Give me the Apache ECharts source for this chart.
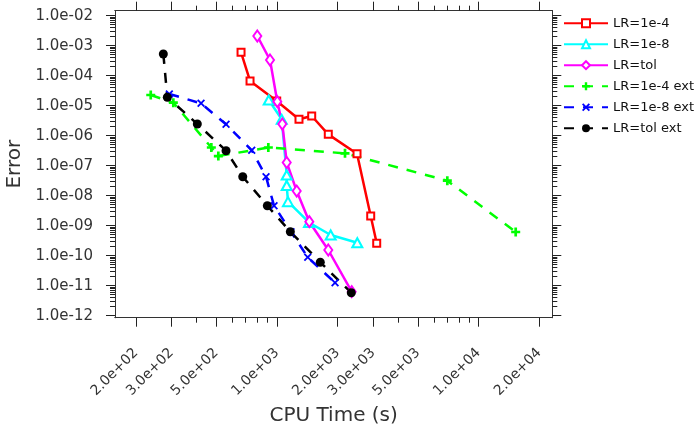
<!DOCTYPE html>
<html>
<head>
<meta charset="utf-8">
<script src="https://cdn.jsdelivr.net/npm/echarts@6/dist/echarts.min.js"></script>
<style>
  html, body { margin: 0; padding: 0; background: #fff; }
  #chart { width: 699px; height: 432px; }
</style>
</head>
<body>
<div id="chart"></div>
<script>
// CPU time (s) and error for each learning-rate run
const lr4Time  = [663.5, 735.3, 997.2, 1286, 1487, 1797, 2495, 2917, 3124];
const lr4Err   = [6.03e-4, 6.66e-5, 1.43e-5, 3.52e-6, 4.54e-6, 1.11e-6, 2.49e-7, 2.10e-9, 2.59e-10];

const lr8Time  = [910.2, 1056, 1118, 1118, 1134, 1442, 1847, 2503];
const lr8Err   = [1.55e-5, 3.52e-6, 4.90e-8, 2.19e-8, 6.31e-9, 1.28e-9, 4.90e-10, 2.71e-10];

const tolTime  = [799, 923.8, 1004, 1063, 1118, 1253, 1447, 1797, 2348];
const tolErr   = [2.105e-3, 3.34e-4, 1.36e-5, 2.455e-6, 1.28e-7, 1.43e-8, 1.36e-9, 1.55e-10, 6.31e-12];

const lr4ExtTime = [236.6, 306.2, 472.6, 512, 906.1, 2175, 6997, 15277];
const lr4ExtErr  = [2.27e-5, 1.26e-5, 4.04e-7, 2.10e-7, 4.04e-7, 2.59e-7, 3.16e-8, 6.17e-10];

const lr8ExtTime = [292.5, 420.2, 559, 749.6, 882.6, 967, 1174, 1421, 1941];
const lr8ExtErr  = [2.455e-5, 1.20e-5, 2.40e-6, 3.26e-7, 4.30e-8, 4.64e-9, 6.31e-10, 8.84e-11, 1.26e-11];

const tolExtTime = [273.2, 285.9, 402.7, 559, 676.5, 895.9, 1165, 1640, 2337];
const tolExtErr  = [5.29e-4, 1.905e-5, 2.455e-6, 3.16e-7, 4.30e-8, 4.64e-9, 6.31e-10, 6.03e-11, 5.84e-12];

// Axis tick values
const xMajorTicks = [200, 300, 500, 1000, 2000, 3000, 5000, 10000, 20000];
const xMinorTicks = [400, 600, 700, 800, 900, 4000, 6000, 7000, 8000, 9000];
const yMajorTicks = [1e-12, 1e-11, 1e-10, 1e-9, 1e-8, 1e-7, 1e-6, 1e-5, 1e-4, 1e-3, 1e-2];
const yMinorTicks = [];
for (let e = -12; e < -2; e++) {
  for (let m = 2; m <= 9; m++) yMinorTicks.push(Number((m + 'e' + e)));
}

const X_MIN = 157.3, X_MAX = 23204;
const Y_MIN = 8.577e-13, Y_MAX = 1.4678e-2;

const FONT = 'DejaVu Sans';
const INK = '#333';

function sci(v) {
  return Number(v).toExponential(1).replace(/e([+-])(\d)$/, 'e$10$2');
}
function blank() { return ''; }

function zip(xs, ys) { return xs.map((x, i) => [x, ys[i]]); }

// One log axis; ticks (and labels, blank when not wanted) sit at the given values
function logAxis(position, min, max, ticks, tickLen, labelOpts) {
  const label = Object.assign({
    show: true, customValues: ticks, fontFamily: FONT, color: INK, formatter: blank
  }, labelOpts || {});
  return {
    type: 'log', position: position, min: min, max: max,
    axisLine: { show: true, lineStyle: { color: INK, width: 1 } },
    axisTick: { show: true, inside: false, length: tickLen, customValues: ticks,
                lineStyle: { color: '#222', width: 1 } },
    axisLabel: label,
    splitLine: { show: false }, minorTick: { show: false }
  };
}

const xMain = logAxis('bottom', X_MIN, X_MAX, xMajorTicks, 9,
  { rotate: 45, margin: 33, fontSize: 14, formatter: sci });
xMain.name = 'CPU Time (s)';
xMain.nameLocation = 'middle';
xMain.nameGap = 85;
xMain.nameTextStyle = { fontFamily: FONT, fontSize: 20, color: INK };

const yMain = logAxis('left', Y_MIN, Y_MAX, yMajorTicks, 9,
  { margin: 22, fontSize: 15, formatter: sci });
yMain.name = 'Error';
yMain.nameLocation = 'middle';
yMain.nameGap = 86;
yMain.nameTextStyle = { fontFamily: FONT, fontSize: 20, color: INK };

const plusPath = 'path://M3.5,0H6.5V3.5H10V6.5H6.5V10H3.5V6.5H0V3.5H3.5Z';
const crossPath = 'path://M0,1.6L1.6,0L5,3.4L8.4,0L10,1.6L6.6,5L10,8.4L8.4,10L5,6.6L1.6,10L0,8.4L3.4,5Z';

function solidSeries(name, color, symbol, size, xs, ys) {
  return {
    name: name, type: 'line', data: zip(xs, ys),
    symbol: symbol, symbolSize: size, showAllSymbol: true,
    lineStyle: { color: color, width: 2.5, type: 'solid' },
    itemStyle: { color: color, borderColor: color, borderWidth: 2 },
    emphasis: { disabled: true }
  };
}

function dashedSeries(name, color, symbol, size, xs, ys) {
  return {
    name: name, type: 'line', data: zip(xs, ys),
    symbol: symbol, symbolSize: size, showAllSymbol: true,
    lineStyle: { color: color, width: 2.5, type: [10, 9] },
    itemStyle: { color: color, borderWidth: 0 },
    emphasis: { disabled: true }
  };
}

const option = {
  backgroundColor: '#fff',
  animation: false,
  grid: { left: 115, right: 146.7, top: 10.7, bottom: 114.3, containLabel: false, outerBoundsMode: 'none' },
  legend: {
    orient: 'vertical', left: 563, top: 16.7, padding: 0,
    itemWidth: 44, itemHeight: 10, itemGap: 8,
    textStyle: { fontFamily: FONT, fontSize: 13, color: '#111' },
    data: ['LR=1e-4', 'LR=1e-8', 'LR=tol', 'LR=1e-4 ext', 'LR=1e-8 ext', 'LR=tol ext']
  },
  xAxis: [
    xMain,
    logAxis('bottom', X_MIN, X_MAX, xMinorTicks, 5),
    logAxis('top', X_MIN, X_MAX, xMajorTicks, 9),
    logAxis('top', X_MIN, X_MAX, xMinorTicks, 5)
  ],
  yAxis: [
    yMain,
    logAxis('left', Y_MIN, Y_MAX, yMinorTicks, 5),
    logAxis('right', Y_MIN, Y_MAX, yMajorTicks, 9),
    logAxis('right', Y_MIN, Y_MAX, yMinorTicks, 5)
  ],
  series: [
    solidSeries('LR=1e-4', '#ff0000', 'emptyRect', 7, lr4Time, lr4Err),
    solidSeries('LR=1e-8', '#00ffff', 'emptyTriangle', [10, 9], lr8Time, lr8Err),
    solidSeries('LR=tol', '#ff00ff', 'emptyDiamond', [8, 11], tolTime, tolErr),
    dashedSeries('LR=1e-4 ext', '#00ff00', plusPath, 9, lr4ExtTime, lr4ExtErr),
    dashedSeries('LR=1e-8 ext', '#0000ff', crossPath, 8, lr8ExtTime, lr8ExtErr),
    dashedSeries('LR=tol ext', '#000000', 'circle', 9, tolExtTime, tolExtErr)
  ]
};

const chart = echarts.init(document.getElementById('chart'), null, { renderer: 'canvas' });
chart.setOption(option);
</script>
</body>
</html>
